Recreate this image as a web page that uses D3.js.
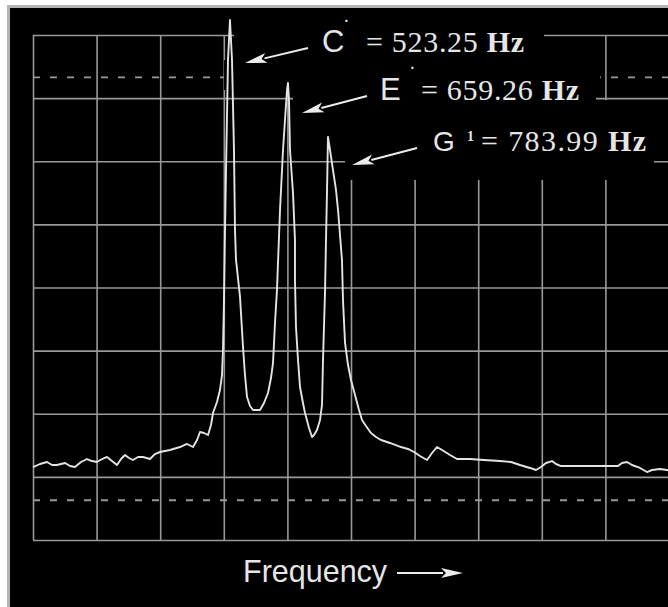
<!DOCTYPE html>
<html><head><meta charset="utf-8">
<script src="https://cdn.jsdelivr.net/npm/d3@7"></script>
<style>body{margin:0;background:#fff}svg{display:block}</style>
</head><body>
<svg id="c" width="668" height="607"></svg>
<script>
// ---- data ----
const gridCols = d3.range(0, 11);      // vertical divisions
const gridRows = d3.range(0, 9);       // horizontal divisions
const dashedLevels = [7.33, 0.63];
const freq = [0,0.110,0.220,0.299,0.377,0.503,0.582,0.660,0.755,0.849,0.928,1.006,1.085,1.164,1.242,1.321,1.384,1.447,1.509,1.572,1.651,1.730,1.840,1.918,1.997,2.154,2.311,2.421,2.516,2.579,2.626,2.689,2.752,2.799,2.830,2.893,2.940,2.972,2.987,3.003,3.019,3.035,3.066,3.097,3.129,3.160,3.176,3.192,3.255,3.302,3.333,3.365,3.412,3.459,3.522,3.569,3.632,3.695,3.742,3.774,3.805,3.836,3.852,3.884,3.931,3.962,3.994,4.009,4.025,4.041,4.088,4.119,4.119,4.135,4.167,4.198,4.245,4.277,4.340,4.387,4.418,4.465,4.513,4.544,4.560,4.591,4.607,4.623,4.638,4.670,4.717,4.764,4.796,4.827,4.858,4.874,4.906,4.953,5.000,5.063,5.126,5.173,5.236,5.314,5.393,5.472,5.613,5.786,5.896,5.991,6.085,6.195,6.274,6.352,6.431,6.557,6.667,6.871,7.091,7.343,7.516,7.657,7.814,7.909,7.987,8.066,8.160,8.223,8.302,8.601,8.915,9.088,9.198,9.261,9.340,9.418,9.544,9.654,9.733,9.858,9.969,10.0];
const level = [1.156,1.204,1.236,1.188,1.188,1.220,1.172,1.156,1.236,1.283,1.251,1.236,1.283,1.315,1.251,1.188,1.283,1.347,1.299,1.267,1.315,1.315,1.283,1.362,1.394,1.426,1.473,1.521,1.473,1.584,1.711,1.695,1.663,1.822,2.012,2.186,2.376,2.614,3.010,3.802,4.911,5.861,7.604,8.238,7.604,6.178,4.911,4.436,3.850,3.057,2.614,2.265,2.123,2.059,2.059,2.059,2.170,2.329,2.566,2.804,3.438,3.960,4.388,5.228,6.178,6.653,7.129,7.240,6.970,6.178,5.497,4.752,4.119,3.374,2.851,2.424,2.170,2.012,1.774,1.632,1.663,1.743,1.901,2.139,2.851,3.913,4.752,5.545,6.384,6.178,5.861,5.545,5.228,4.832,4.436,3.802,3.121,2.772,2.535,2.297,2.059,1.901,1.806,1.695,1.632,1.584,1.537,1.473,1.442,1.394,1.331,1.267,1.378,1.473,1.426,1.347,1.283,1.283,1.267,1.251,1.236,1.188,1.141,1.109,1.156,1.220,1.251,1.204,1.172,1.172,1.172,1.172,1.172,1.220,1.236,1.188,1.141,1.077,1.109,1.125,1.109,1.093];
const noteNames = ["C", "E", "G"];
const noteMarks = ["·", "·", "1"];
const noteFreqs = ["= 523.25 ", "= 659.26 ", "= 783.99 "];
const unitLabel = "Hz";
const axisLabel = "Frequency";

// ---- drawing ----
const svg = d3.select("#c");
svg.append("rect").attr("x", 7).attr("y", 5).attr("width", 661).attr("height", 602).attr("fill", "#b4b4b4");
svg.append("rect").attr("x", 10).attr("y", 8).attr("width", 658).attr("height", 599).attr("fill", "#000");

const x = d3.scaleLinear().domain([0, 10]).range([33, 669]);
const y = d3.scaleLinear().domain([0, 8]).range([540, 35]);
const gridColor = "#999999";

const grid = svg.append("g");
grid.append("g").attr("transform", `translate(0,${y(0)})`)
  .call(d3.axisBottom(x).tickValues(gridCols).tickSize(-(y(0) - y(8))).tickFormat(""))
  .call(g => g.select(".domain").remove())
  .selectAll("line").attr("stroke", gridColor).attr("stroke-width", 1.6);
grid.append("g").attr("transform", `translate(${x(0)},0)`)
  .call(d3.axisLeft(y).tickValues(gridRows).tickSize(-(x(10) - x(0))).tickFormat(""))
  .call(g => g.select(".domain").remove())
  .selectAll("line").attr("stroke", gridColor).attr("stroke-width", 1.6);
grid.selectAll(".dash").data(dashedLevels).join("line")
  .attr("x1", x(0)).attr("x2", x(10))
  .attr("y1", d => y(d)).attr("y2", d => y(d))
  .attr("stroke", gridColor).attr("stroke-width", 1.8).attr("stroke-dasharray", "7,10");

// black panels behind the labels
const masks = [[234, 20, 310, 40], [224, 60, 376, 30], [293, 90, 303, 28], [345, 100, 309, 80]];
svg.append("g").selectAll("rect").data(masks).join("rect")
  .attr("x", d => d[0]).attr("y", d => d[1]).attr("width", d => d[2]).attr("height", d => d[3]).attr("fill", "#000");

// spectrum
const pts = freq.map((f, i) => [f, level[i]]);
svg.append("path").datum(pts)
  .attr("d", d3.line().x(d => x(d[0])).y(d => y(d[1])))
  .attr("fill", "none").attr("stroke", "#e4e4e4").attr("stroke-width", 1.9).attr("stroke-linejoin", "round");

// arrows
function arrow(g, x1, y1, x2, y2, head, hw) {
  const dx = x2 - x1, dy = y2 - y1, L = Math.hypot(dx, dy);
  const ux = dx / L, uy = dy / L;
  const bx = x2 - ux * head, by = y2 - uy * head;
  g.append("line").attr("x1", x1).attr("y1", y1).attr("x2", bx + ux * 2).attr("y2", by + uy * 2)
    .attr("stroke", "#ececec").attr("stroke-width", 2);
  g.append("polygon").attr("points", [[x2, y2], [bx - uy * hw, by + ux * hw], [bx + ux * 5, by + uy * 5], [bx + uy * hw, by - ux * hw]].map(p => p.join(",")).join(" "))
    .attr("fill", "#ececec");
}
const ann = svg.append("g");
const layout = [
  {lx: 322, ly: 52, ls: 31, mx: 344, my: 26, ms: 14, tx: 366, tl: 158, arrow: [308, 48, 245, 63]},
  {lx: 380, ly: 100, ls: 31, mx: 410, my: 73, ms: 14, tx: 421, tl: 158, arrow: [367, 96, 302, 113]},
  {lx: 433, ly: 151, ls: 28, mx: 467, my: 141, ms: 14, tx: 481, tl: 165, arrow: [417, 148, 352, 165]}
];
noteNames.forEach((n, i) => {
  const L = layout[i];
  ann.append("text").attr("x", L.lx).attr("y", L.ly).text(n)
    .attr("font-family", "Liberation Sans, Arial, sans-serif").attr("font-size", L.ls).attr("fill", "#e6e6e6");
  ann.append("text").attr("x", L.mx).attr("y", L.my).text(noteMarks[i])
    .attr("font-family", "Liberation Serif, serif").attr("font-weight", "bold").attr("font-size", L.ms).attr("fill", "#e6e6e6");
  const t = ann.append("text").attr("x", L.tx).attr("y", L.ly)
    .attr("font-family", "Liberation Serif, Times New Roman, serif").attr("font-size", 30).attr("fill", "#e6e6e6")
    .attr("textLength", L.tl).attr("lengthAdjust", "spacing");
  t.append("tspan").text(noteFreqs[i]);
  t.append("tspan").attr("font-weight", "bold").text(unitLabel);
  arrow(ann, ...L.arrow, 22, 5);
});

// axis label
svg.append("text").attr("x", 243).attr("y", 582).text(axisLabel)
  .attr("font-family", "Liberation Sans, Arial, sans-serif").attr("font-size", 30.5).attr("fill", "#e6e6e6");
arrow(svg, 397, 573, 463, 573, 22, 5);
</script>
</body></html>
